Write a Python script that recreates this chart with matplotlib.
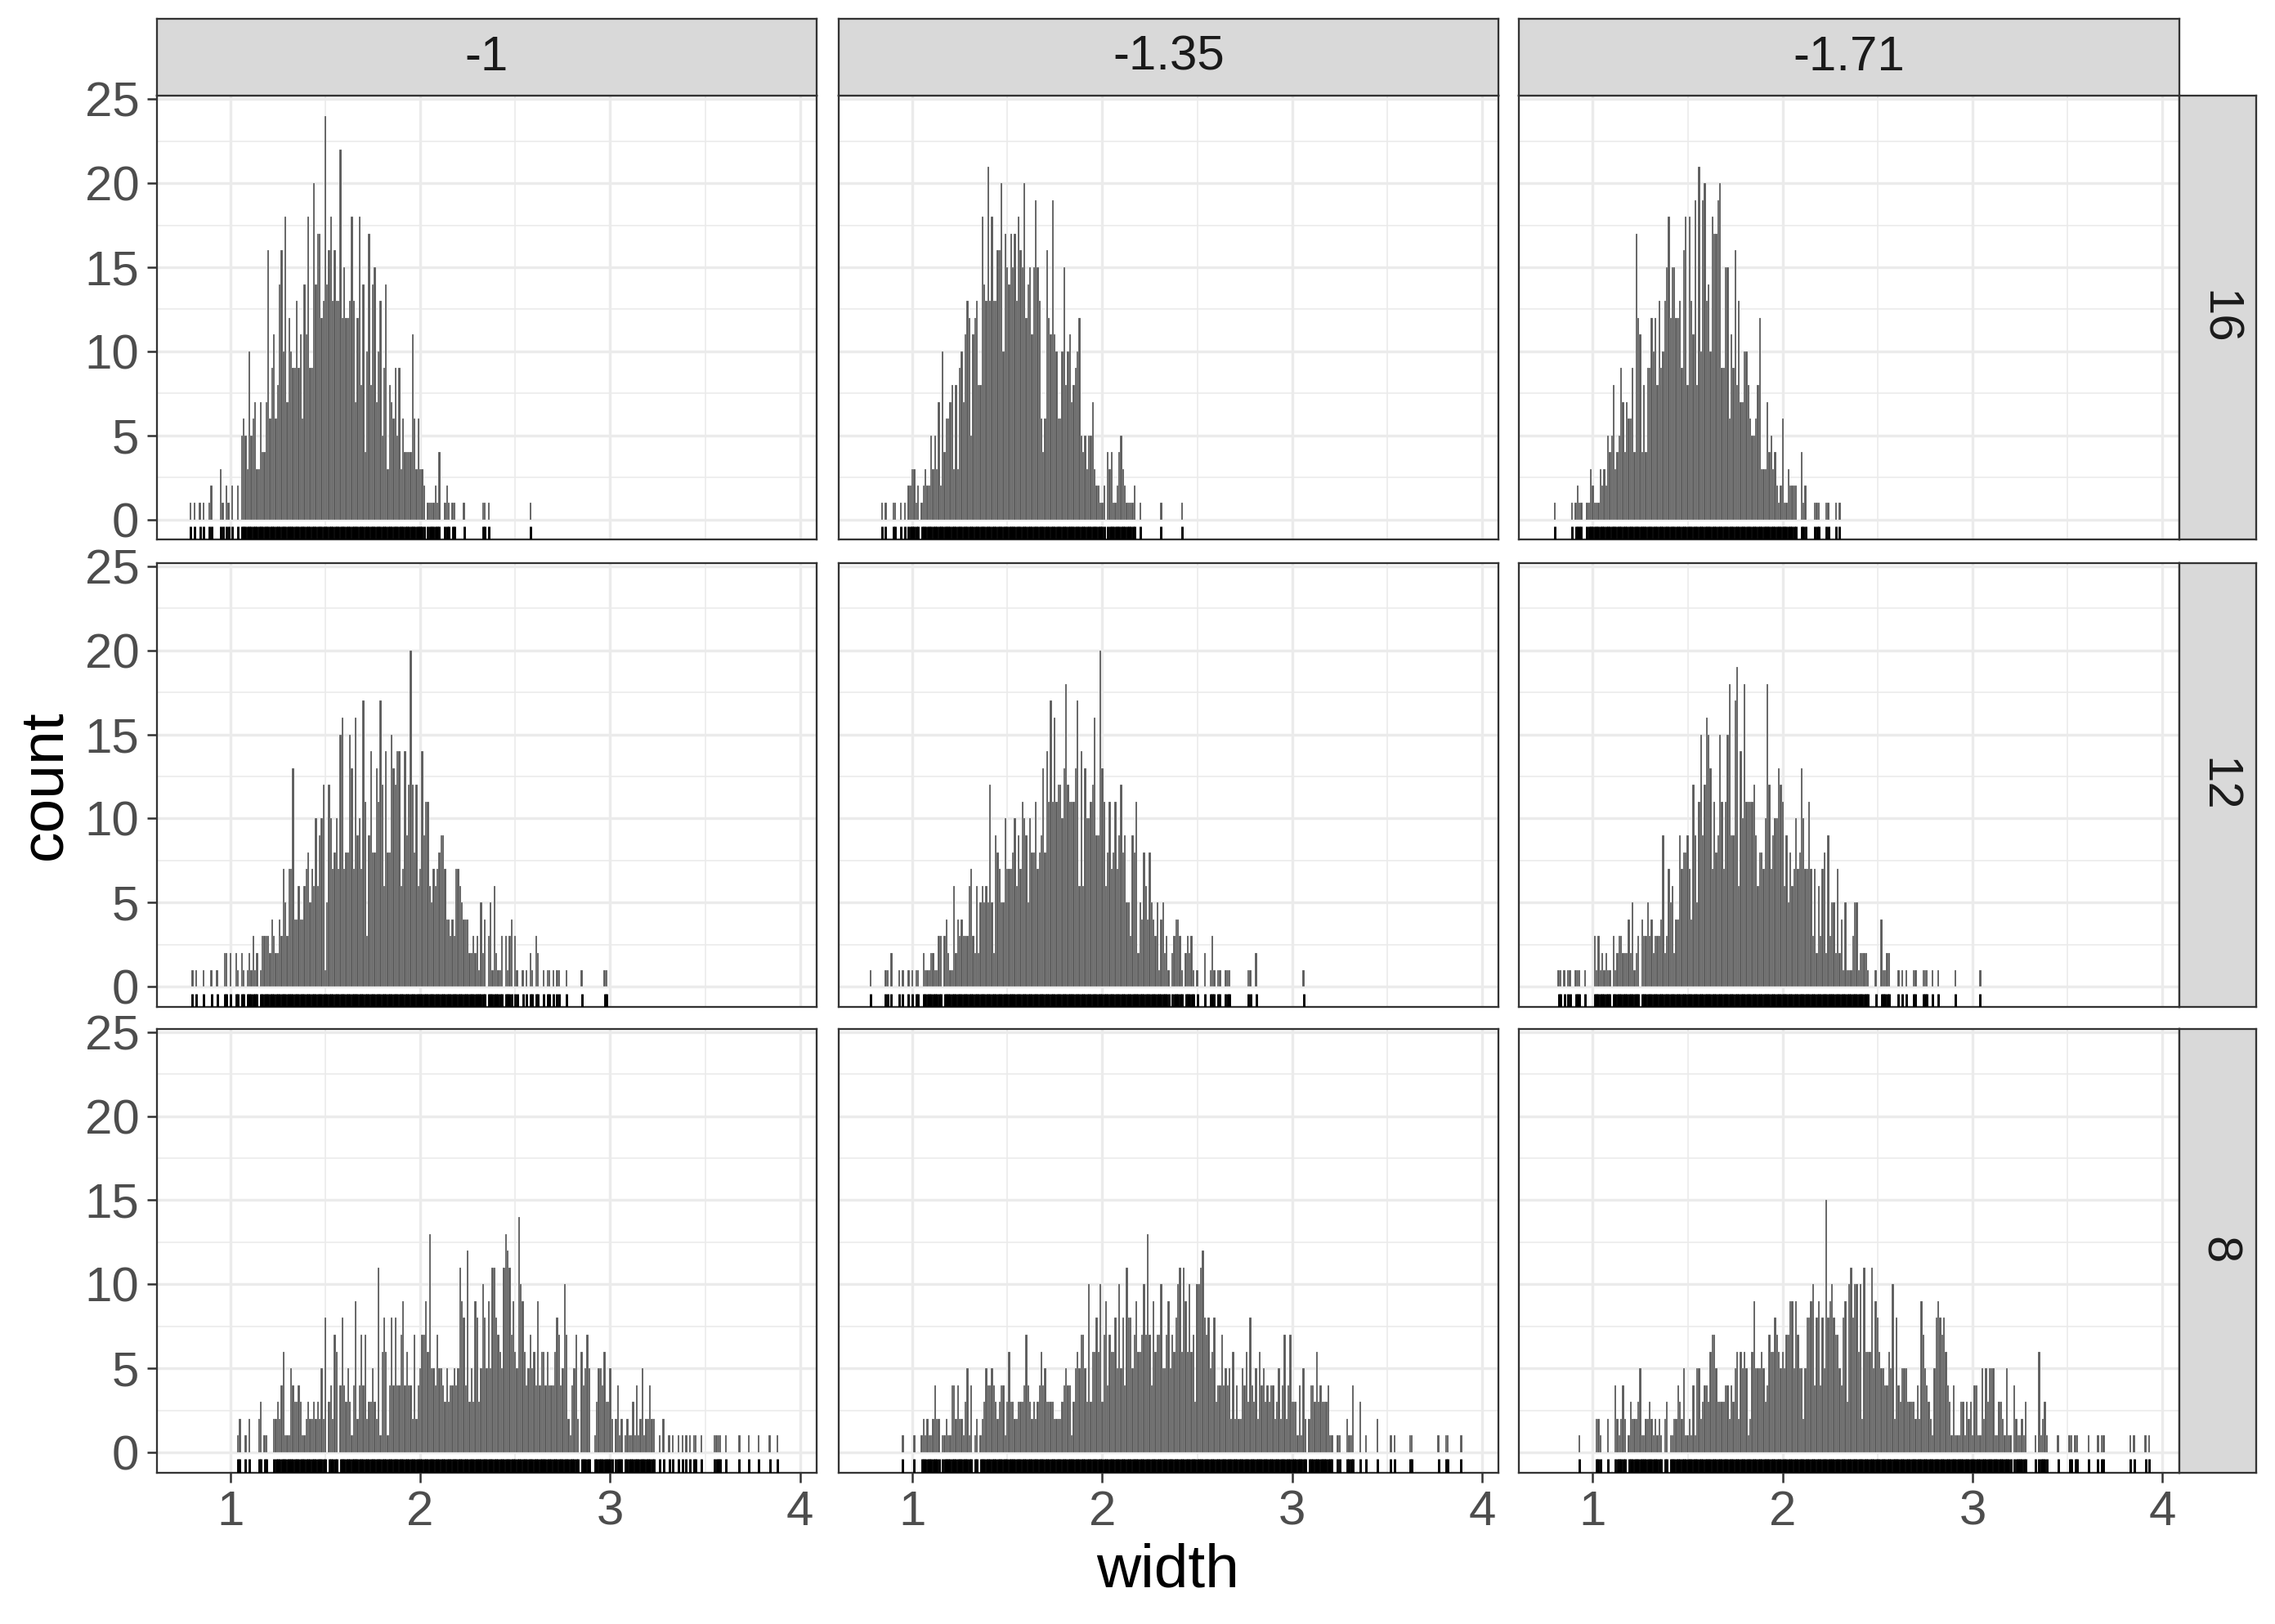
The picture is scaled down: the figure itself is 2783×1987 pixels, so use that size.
import matplotlib
matplotlib.use("Agg")
import matplotlib.pyplot as plt
import numpy as np

plt.rcParams['font.family'] = ['Liberation Sans', 'DejaVu Sans']

# facet labels
col_labels = ["-1", "-1.35", "-1.71"]
row_labels = ["16", "12", "8"]

# histogram counts, bin width 0.01; *_start is the first bin centre as hundredths from 1.00
a_start = -21
a_counts = [1, 0, 1, 0, 0, 1, 0, 1, 0, 0, 1, 2, 0, 0, 0, 0, 3, 1, 0, 2, 1, 0, 2, 0, 0, 2, 0,
            5, 6, 5, 3, 10, 5, 6, 7, 3, 3, 7, 4, 4, 7, 16, 6, 9, 11, 6, 8,
            14, 16, 10, 18, 7, 12, 10, 9, 9, 13, 9, 11, 6, 14, 11, 18, 9, 9, 20, 14,
            17, 17, 12, 13, 24, 14, 16, 18, 13, 16, 13, 13, 22, 12, 15, 12, 12, 13, 18, 13,
            7, 12, 18, 8, 14, 4, 10, 17, 8, 14, 15, 7, 10, 13, 5, 9, 14, 3, 8, 7,
            6, 9, 5, 9, 3, 6, 4, 4, 4, 4, 11, 6, 3, 6, 3, 3, 2,
            0, 1, 1, 1, 1, 2, 1, 4, 0, 0, 1, 2, 1, 0, 1, 1, 0, 0, 0, 0, 1,
            0, 0, 0, 0, 0, 0, 0, 0, 0, 1, 1, 0, 1,
            0, 0, 0, 0, 0, 0, 0, 0, 0, 0, 0, 0, 0, 0, 0, 0, 0, 0, 0, 0, 0, 1]

b_start = -16
b_counts = [1, 0, 1, 0, 0, 0, 1, 1, 0, 0, 1, 0, 1, 0,
            2, 2, 3, 3, 1, 2, 0, 1, 2, 3, 2, 2, 5, 3, 5, 3, 7, 2, 10, 4,
            6, 6, 7, 8, 3, 8, 3, 9, 10, 7, 11, 13, 12, 5, 11, 12, 13, 8, 8, 18,
            14, 13, 21, 13, 18, 13, 13, 16, 16, 20, 10, 17, 15, 14, 17, 15, 17, 13, 18, 16,
            15, 20, 12, 14, 15, 11, 15, 19, 15, 13, 6, 4, 6, 16, 12, 11, 19, 11, 10, 6,
            6, 10, 15, 8, 10, 11, 7, 8, 9, 10, 12, 5, 4, 5, 3, 5, 5, 7, 3, 2,
            2, 1, 1, 2, 0, 4, 3, 4, 1, 1, 2, 4, 5, 3, 2, 1, 1, 1, 1, 2,
            0, 0, 1,
            0, 0, 0, 0, 0, 0, 0, 0, 0, 0, 1,
            0, 0, 0, 0, 0, 0, 0, 0, 0, 0, 1]

c_start = -20
c_counts = [1, 0, 0, 0, 0, 0, 0, 0, 0, 1, 0, 1, 2, 1, 1, 0, 0, 1, 1,
            3, 2, 1, 1, 1, 3, 2, 3, 2, 5, 4, 5, 8, 3, 4, 5, 9, 7, 4, 7,
            6, 6, 9, 4, 17, 12, 11, 4, 8, 4, 9, 9, 12, 10, 12, 8, 13, 9, 10, 13,
            15, 18, 12, 15, 15, 12, 12, 13, 9, 16, 18, 8, 18, 13, 11, 19, 8, 21, 10, 19,
            20, 13, 14, 10, 18, 17, 17, 19, 20, 9, 9, 15, 15, 6, 11, 9, 16, 8, 13, 7,
            7, 10, 10, 8, 6, 5, 5, 6, 8, 12, 3, 3, 3, 7, 4, 5, 3, 4, 2, 1,
            2, 6, 1, 1, 3, 2, 2, 2, 2, 0, 0, 4, 1, 2,
            0, 0, 0, 0, 1, 1, 1, 0, 0, 0, 1, 1, 0, 0, 0, 1, 0, 1]

d_start = -20
d_counts = [1, 0, 1, 0, 0, 0, 1, 0, 0, 0, 1, 0, 0, 1, 0, 0, 0, 2, 2, 0, 2, 0, 0, 2, 1, 0,
            2, 1, 0, 1, 2, 1, 3, 1, 2, 0,
            1, 3, 3, 3, 3, 2, 4, 3, 2, 2, 4, 3, 7, 5, 3, 7, 7, 13, 4, 4,
            6, 4, 4, 6, 7, 8, 5, 7, 6, 10, 6, 9, 10, 12, 1, 5, 12, 10, 7, 8, 10, 7,
            15, 16, 7, 8, 8, 15, 13, 7, 16, 9, 10, 7, 17, 11, 3, 9, 14, 8, 8, 13,
            11, 17, 12, 6, 14, 8, 8, 15, 13, 12, 14, 14, 6, 7, 14, 9, 12, 20, 12, 8,
            12, 6, 7, 14, 9, 11, 11, 6, 5, 7, 6, 7, 8, 9, 9, 7, 4, 4, 3, 4,
            3, 7, 7, 6, 5, 4, 4, 4, 2, 2, 3, 2, 3, 1, 5, 2, 4, 0, 3, 5, 1, 6,
            2, 1, 1, 3, 0, 3, 1, 3, 4, 0, 3, 1,
            0, 0, 1, 0, 1, 0, 2, 1, 0, 3, 2, 0, 0, 1, 0, 1, 1, 0, 1, 0, 1, 1, 0, 0, 0, 1,
            0, 0, 0, 0, 0, 0, 0, 1,
            0, 0, 0, 0, 0, 0, 0, 0, 0, 0, 0, 1, 1]

e_start = -22
e_counts = [1, 0, 0, 0, 0, 0, 0, 0, 1, 1, 0, 2, 0, 0, 0, 1, 0, 1, 0, 0, 1, 0, 1, 0, 1, 1, 0, 0,
            2, 1, 1, 1, 2, 2, 1, 1, 3, 3, 0, 3, 4, 2, 1, 1, 6, 2, 4, 3,
            4, 3, 3, 3, 6, 7, 3, 2, 6, 2, 5, 6, 5, 6, 5, 12, 5, 2, 9, 8,
            7, 5, 5, 10, 7, 7, 7, 8, 10, 6, 9, 7,
            11, 10, 9, 5, 10, 8, 8, 11, 7, 8, 9, 13, 8, 14, 11, 17, 11, 16, 11, 12, 12, 10,
            13, 18, 12, 11, 11, 11, 13, 17, 6, 14, 6, 13, 10, 10, 11, 12, 16, 9, 9, 20,
            13, 11, 6, 8, 11, 7, 8, 11, 7, 9, 12, 8, 9, 5, 5, 3, 9, 8, 11, 2, 5, 4,
            8, 6, 4, 8, 5, 4, 3, 5, 1, 4, 5, 2, 3, 1, 0, 2, 3, 4, 4, 3,
            1, 0, 2, 3, 2, 3, 1, 0, 1,
            0, 0, 0, 2, 0, 0, 1, 3, 1, 0, 1, 1, 0, 0, 1, 1, 1,
            0, 0, 0, 0, 0, 0, 0, 0, 0, 1, 1, 0, 0, 2,
            0, 0, 0, 0, 0, 0, 0, 0, 0, 0, 0, 0, 0, 0, 0, 0, 0, 0, 0, 0, 0, 0, 0, 0, 1]

f_start = -18
f_counts = [1, 1, 0, 1, 0, 1, 1, 0, 0, 1, 1, 1, 0, 0, 1, 0, 0, 0, 0,
            3, 1, 3, 1, 2, 1, 2, 1, 1, 0, 3, 1, 2, 3, 3, 2, 2, 2, 4, 2,
            5, 1, 2, 3, 0, 4, 3, 3, 5, 3, 4, 2, 3,
            3, 3, 4, 9, 2, 3, 7, 5, 6, 2, 4, 4, 9, 7, 8, 8, 9, 7, 4, 12,
            9, 5, 11, 15, 9, 12, 16, 15, 13, 7, 11, 8, 9, 15, 11, 7, 11, 15, 18, 9,
            9, 17, 19, 6, 14, 10, 18, 11, 11, 11, 11, 12, 9, 6, 8, 8, 7, 10, 18, 12,
            7, 9, 10, 10, 13, 12, 11, 6, 9, 5, 8, 6, 7,
            10, 7, 8, 13, 10, 7, 7, 11, 7, 3, 7, 2, 6, 3, 7, 8, 2, 9, 3, 5,
            5, 2, 7, 2, 4, 1, 5, 1, 1, 1, 3, 5, 5, 1, 2, 2, 2, 2, 1,
            0, 0, 0, 1, 0, 0, 4, 1, 1, 2, 2, 0, 0, 0, 0, 1, 0, 1, 0, 1, 0, 0, 0,
            1, 1, 0, 0, 0, 1, 1, 1, 0, 0, 1, 0, 0, 1,
            0, 0, 0, 0, 0, 0, 0, 0, 1, 0, 0, 0, 0, 0, 0, 0, 0, 0, 0, 0, 0, 1]

g_start = 4
g_counts = [1, 2, 0, 0, 1, 0, 2, 0, 0, 0, 0, 2, 3, 0, 1, 1, 0, 0, 0,
            2, 2, 3, 2, 4, 6, 1, 1, 1, 5, 4, 3, 3, 4, 3, 1, 1, 2, 3, 2,
            2, 3, 2, 3, 2, 5, 2, 8, 0, 3, 4, 2, 7, 6, 0, 4, 8, 4, 3, 5, 3,
            1, 4, 9, 2, 4, 7, 4, 7, 2, 3, 3, 5, 3, 2, 11, 1, 6, 8, 6, 1,
            4, 8, 4, 8, 4, 4, 7, 9, 4, 6, 4, 4, 2, 7, 2, 4, 5, 7, 7, 9,
            6, 13, 5, 5, 4, 7, 5, 5, 4, 3, 5, 3, 4, 4, 5, 4, 5, 11, 9, 8, 4,
            12, 3, 5, 3, 9, 8, 3, 5, 10, 8, 5, 9, 5, 11, 11, 8, 7, 6, 5, 11,
            13, 12, 11, 7, 9, 6, 5, 14, 10, 9, 6, 4, 5, 7, 5, 6, 4, 9, 4, 6,
            6, 4, 6, 4, 4, 4, 6, 8, 7, 4, 5, 10, 7, 2, 1, 4, 5, 7, 2, 0, 6,
            4, 5, 7, 5, 0, 0, 1, 3, 5, 5, 4, 6, 3, 3, 5, 2, 0, 2, 4, 1, 2,
            0, 1, 2, 1, 1, 3, 1, 4, 1, 2, 5, 1, 2, 2, 4, 2, 2,
            0, 0, 1, 0, 2, 0, 0, 1, 0, 1, 0, 0, 1, 0, 1, 0, 1, 0, 1, 0, 1, 1, 0, 0, 1,
            0, 0, 0, 0, 0, 0, 1, 1, 1, 1, 0, 0, 1, 0, 0, 0, 0, 0, 0, 1,
            0, 0, 0, 0, 1, 0, 0, 0, 0, 1, 0, 0, 0, 0, 0, 1, 0, 0, 0, 1]

h_start = -5
h_counts = [1, 0, 0, 0, 0, 0, 1, 0, 0, 0,
            1, 2, 1, 2, 1, 1, 2, 4, 2, 2, 0, 1, 1, 2, 1, 1, 4, 4, 2, 4,
            2, 2, 1, 3, 5, 1, 4, 0, 1, 2, 0, 1, 2, 3, 5, 4, 4, 5, 4, 3, 2, 3, 4,
            4, 1, 3, 6, 3, 3, 2, 2, 3, 3, 3, 4, 7, 4, 3, 2, 3, 2, 3, 4,
            6, 4, 5, 3, 3, 3, 3, 2, 2, 2, 2, 3, 4, 5, 4, 4, 1, 3, 5, 6,
            5, 7, 7, 5, 3, 10, 3, 6, 6, 8, 6, 10, 3, 7, 9, 4, 7, 6, 6, 8,
            5, 10, 5, 8, 4, 11, 8, 8, 5, 7, 9, 6, 6, 7, 10, 7, 13, 7, 4, 9,
            6, 7, 7, 10, 5, 5, 7, 9, 5, 7, 6,
            8, 10, 11, 6, 11, 9, 6, 10, 6, 7, 3, 10, 10, 11, 12, 8, 7, 8, 5, 6,
            8, 3, 4, 4, 7, 4, 5, 4, 5, 2, 6, 2, 4, 2, 2, 5, 4, 6, 3, 8, 4, 3, 5,
            2, 6, 4, 5, 3, 4, 3, 4, 4, 2, 3, 5, 2, 4, 7, 2, 4, 7, 3, 3,
            3, 1, 4, 1, 5, 2, 0, 2, 4, 4, 3, 6, 3, 4, 3, 3, 3, 4, 1, 1,
            0, 0, 1, 1, 0, 0, 0, 2, 1, 1, 4, 0, 0, 0, 3, 0, 0, 1,
            0, 0, 0, 0, 0, 2, 0, 0, 0, 0, 0, 0, 1, 0, 1, 0, 0, 0, 0, 0, 0, 0, 1, 1,
            0, 0, 0, 0, 0, 0, 0, 0, 0, 0, 0, 0, 0, 1, 0, 0, 0, 1, 1, 0, 0, 0, 0, 0, 0, 1]

i_start = -7
i_counts = [1, 0, 0, 0, 0, 0, 0, 0, 0, 2, 2, 1, 0, 0, 0, 2, 0, 0, 0, 4,
            2, 1, 2, 4, 2, 0, 1, 3, 2, 2, 2, 3, 5, 1, 1, 2, 2, 3, 2, 1,
            2, 1, 2, 1, 0, 2, 3, 0, 1, 1, 2, 2, 4, 3, 2, 5, 1, 1, 2, 1,
            4, 1, 5, 5, 2, 3, 4, 4, 3, 6, 7, 7, 5, 3, 3, 3, 3, 4, 4, 2, 4, 3, 5,
            6, 2, 6, 5, 6, 5, 1, 2, 6, 9, 5, 5, 5, 6, 5, 3, 4, 7, 6, 6,
            8, 7, 6, 5, 6, 5, 7, 7, 9, 9, 5, 9, 7, 5, 5, 2, 5, 8, 8, 9,
            10, 4, 8, 9, 4, 8, 5, 15, 8, 9, 10, 8, 7, 7, 5, 4, 8, 9, 3, 10,
            11, 8, 10, 10, 6, 10, 2, 11, 6, 6, 6, 11, 5, 9, 8, 6, 5, 5, 4, 4, 6, 5,
            10, 2, 8, 4, 3, 5, 5, 5, 3, 3, 3, 3, 2, 4, 2, 9, 7, 5, 4, 3,
            2, 1, 5, 8, 9, 8, 7, 8, 6, 4, 3, 1, 4, 1, 1, 1, 3, 3, 1, 3, 2, 3,
            1, 4, 4, 1, 1, 5, 2, 5, 3, 5, 5, 5, 1, 1, 3, 3, 2, 1, 5, 1,
            1, 0, 4, 2, 1, 1, 2, 1, 3,
            0, 0, 0, 0, 1, 0, 6, 1, 2, 3, 1, 0, 0, 0, 0, 0, 1, 0, 0, 0, 0, 0, 1, 1, 0, 1, 1,
            0, 0, 0, 0, 0, 1, 0, 0, 0, 0, 1, 0, 1, 1,
            0, 0, 0, 0, 0, 0, 0, 0, 0, 0, 0, 0, 0, 1, 0, 1, 0, 0, 0, 0, 0, 1, 0, 1]

panel_data = [[(a_start, a_counts), (b_start, b_counts), (c_start, c_counts)],
              [(d_start, d_counts), (e_start, e_counts), (f_start, f_counts)],
              [(g_start, g_counts), (h_start, h_counts), (i_start, i_counts)]]

BIN = 0.01
W, H = 1568.0, 1119.4          # layout measured on a 1568 px wide copy
col_x = [108, 578, 1047]
row_y = [66, 388, 709]
pw, ph = 455, 306
strip = 53

fig = plt.figure(figsize=(2783 / 300, 1987 / 300), dpi=300)


def rect(x, y, w, h):
    return [x / W, 1 - (y + h) / H, w / W, h / H]


def style_strip(sax):
    sax.set_facecolor('#D9D9D9')
    sax.set_xticks([])
    sax.set_yticks([])
    for s in sax.spines.values():
        s.set_color('#333333')
        s.set_linewidth(0.55)


for r in range(3):
    for c in range(3):
        ax = fig.add_axes(rect(col_x[c], row_y[r], pw, ph))
        start, counts = panel_data[r][c]
        counts = np.array(counts)
        centers = 1 + (start + np.arange(len(counts))) * BIN
        keep = counts > 0
        ax.bar(centers[keep], counts[keep], width=BIN, color='#595959',
               edgecolor='white', linewidth=0.05, zorder=2)
        ax.vlines(centers[keep], 0, 0.03, transform=ax.get_xaxis_transform(),
                  color='black', linewidth=0.7, zorder=3)

        ax.set_xlim(0.612, 4.088)
        ax.set_ylim(-1.2, 25.2)
        ax.set_xticks([1, 2, 3, 4])
        ax.set_xticks([1.5, 2.5, 3.5], minor=True)
        ax.set_yticks([0, 5, 10, 15, 20, 25])
        ax.set_yticks([2.5, 7.5, 12.5, 17.5, 22.5], minor=True)
        ax.set_axisbelow(True)
        ax.grid(which='major', color='#EBEBEB', linewidth=0.8)
        ax.grid(which='minor', color='#EBEBEB', linewidth=0.4)
        for s in ax.spines.values():
            s.set_color('#333333')
            s.set_linewidth(0.55)
        ax.tick_params(which='minor', length=0)
        ax.tick_params(which='major', length=2.9, width=0.6, color='#333333',
                       labelsize=14.4, labelcolor='#4D4D4D', pad=2.2)
        if c != 0:
            ax.tick_params(axis='y', left=False, labelleft=False)
        if r != 2:
            ax.tick_params(axis='x', bottom=False, labelbottom=False)

        # row strip on the right
        if c == 2:
            sax = fig.add_axes(rect(col_x[c] + pw, row_y[r], strip, ph))
            style_strip(sax)
            sax.text(0.5, 0.5, row_labels[r], rotation=-90, ha='center', va='center',
                     fontsize=14.4, color='#1A1A1A', transform=sax.transAxes)

# column strips on top
for c in range(3):
    sax = fig.add_axes(rect(col_x[c], row_y[0] - strip, pw, strip))
    style_strip(sax)
    sax.text(0.5, 0.5, col_labels[c], ha='center', va='center',
             fontsize=14.4, color='#1A1A1A', transform=sax.transAxes)

fig.text(805 / W, 1 - 1083 / H, "width", ha='center', va='center', fontsize=18, color='black')
fig.text(31 / W, 1 - 541 / H, "count", ha='center', va='center', rotation=90,
         fontsize=18, color='black')

fig.savefig("out.png", dpi=300)
